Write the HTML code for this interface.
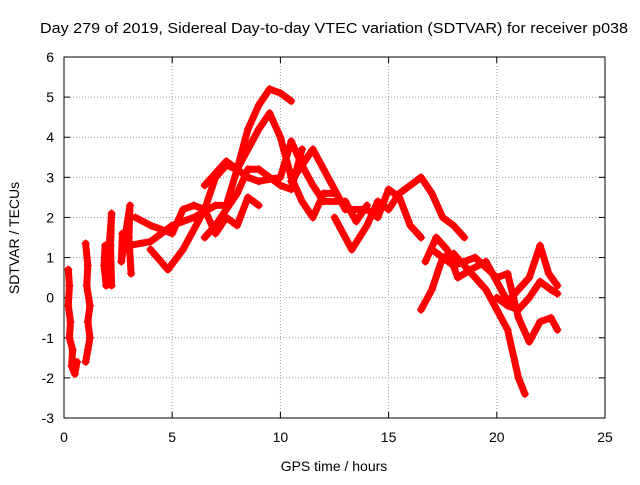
<!DOCTYPE html>
<html><head><meta charset="utf-8"><style>
body{margin:0;background:#fff}
svg text{font-family:"Liberation Sans",sans-serif;font-size:14px;fill:#000}
</style></head><body>
<svg id="chart" width="640" height="480" xmlns="http://www.w3.org/2000/svg">
<text x="40" y="33" style="font-size:15px" textLength="588" lengthAdjust="spacingAndGlyphs">Day 279 of 2019, Sidereal Day-to-day VTEC variation (SDTVAR) for receiver p038</text>
<text x="334" y="471" text-anchor="middle">GPS time / hours</text>
<text transform="translate(19,238) rotate(-90)" text-anchor="middle">SDTVAR / TECUs</text>
<g id="grid"></g><g id="axes"></g><g id="marks"></g>
</svg>
<script>
const xTicks=[0,5,10,15,20,25];
const yTicks=[-3,-2,-1,0,1,2,3,4,5,6];
const s1=[[0.2,0.7],[0.25,0.3],[0.2,-0.2],[0.3,-0.6],[0.25,-1.0],[0.4,-1.3],[0.35,-1.7],[0.5,-1.9],[0.6,-1.6]];
const s1b=[[1.0,1.35],[1.1,0.8],[1.05,0.3],[1.2,-0.2],[1.1,-0.6],[1.2,-1.0],[1.1,-1.3],[1.0,-1.6]];
const s1c=[[1.9,1.3],[1.85,0.8],[1.95,0.3],[2.2,2.1],[2.15,1.3],[2.2,0.3]];
const s1d=[[2.7,1.6],[2.65,0.9],[3.05,2.3],[3.0,1.5],[3.1,0.6]];
const s2=[[3.3,2.0],[4,1.8],[5,1.6],[5.5,2.2],[6,2.3],[6.5,2.2],[7,1.6],[7.5,2.0],[8,1.8],[8.5,2.5],[9,2.3]];
const s3=[[3,1.3],[4,1.4],[5,1.8],[6,2.0],[7,2.3],[7.5,2.3],[8,3.2],[8.5,4.2],[9,4.8],[9.5,5.2],[10,5.1],[10.5,4.9]];
const s4=[[4,1.2],[4.8,0.7],[5.5,1.2],[6.5,2.2],[7,3.0],[7.5,3.3],[8,3.2],[9,4.2],[9.5,4.6],[10,4.0],[10.5,3.0],[11,2.4],[11.5,2.0],[12,2.6],[12.5,2.6]];
const s5=[[6.5,1.5],[7,1.8],[8,2.6],[8.5,3.2],[9,3.2],[10,2.8],[10.5,2.7],[11,3.7]];
const s6=[[6.5,2.8],[7.5,3.4],[8.5,3.0],[9,2.9],[10,3.0],[10.5,3.9],[11,3.3],[11.5,2.8],[12,2.4],[13,2.4],[13.5,1.9],[14,2.3]];
const s7=[[10.5,2.9],[11.5,3.7],[12,3.2],[12.5,2.7],[13,2.2],[14,2.2],[14.5,2.0],[15,2.7],[15.5,2.5],[16,1.8],[16.5,1.5]];
const s8=[[12.5,2.0],[13.3,1.2],[14,1.8],[14.5,2.4],[15,2.2],[15.5,2.6],[16.5,3.0],[17,2.6],[17.5,2.0],[18,1.8],[18.5,1.5]];
const s9=[[16.5,-0.3],[17,0.2],[17.5,1.0],[18,1.1],[18.5,0.8],[19,0.5],[19.5,0.2],[20,-0.3],[20.5,-0.8],[21,-2.0],[21.3,-2.4]];
const s10=[[16.7,0.9],[17.2,1.5],[17.7,1.2],[18.2,0.5],[18.8,0.7],[19.5,0.9],[20,0.4],[20.5,-0.1],[21,0.2],[21.5,0.5],[22,1.3],[22.4,0.6],[22.8,0.3]];
const s11=[[17,1.2],[18,0.8],[19,1.0],[20,0.5],[20.5,0.6],[21,-0.5],[21.5,-1.1],[22,-0.6],[22.5,-0.5],[22.8,-0.8]];
const s12=[[20,0],[20.5,-0.2],[21,-0.3],[21.5,0],[22,0.4],[22.5,0.2],[22.8,0.1]];
const series=[s1,s1b,s1c,s1d,s2,s3,s4,s5,s6,s7,s8,s9,s10,s11,s12];
const L=64,R=605,T=57,B=418;
const X=v=>L+(v-0)/(25-0)*(R-L);
const Y=v=>B-(v+3)/9*(B-T);
const NS="http://www.w3.org/2000/svg";
function mk(t,a,p){const e=document.createElementNS(NS,t);for(const k in a)e.setAttribute(k,a[k]);p.appendChild(e);return e;}
const grid=document.getElementById('grid'),axes=document.getElementById('axes'),marks=document.getElementById('marks');
xTicks.forEach(v=>{
  if(v>0&&v<25){const g=mk('line',{x1:X(v),x2:X(v),y1:T,y2:B,stroke:'#a0a0a0','stroke-dasharray':'1,2'},grid);
  
  }
  mk('line',{x1:X(v),x2:X(v),y1:B,y2:B-6,stroke:'#000'},axes);
  mk('line',{x1:X(v),x2:X(v),y1:T,y2:T+6,stroke:'#000'},axes);
  const t=mk('text',{x:X(v),y:B+24,'text-anchor':'middle'},axes);t.textContent=v;
  
  
});
yTicks.forEach(v=>{
  if(v>-3&&v<6){const g=mk('line',{x1:L,x2:R,y1:Y(v),y2:Y(v),stroke:'#a0a0a0','stroke-dasharray':'1,2'},grid);
  
  }
  mk('line',{x1:L,x2:L+6,y1:Y(v),y2:Y(v),stroke:'#000'},axes);
  mk('line',{x1:R,x2:R-6,y1:Y(v),y2:Y(v),stroke:'#000'},axes);
  const t=mk('text',{x:L-10,y:Y(v)+5,'text-anchor':'end'},axes);t.textContent=v;
  
  
});
const fr=mk('rect',{x:L,y:T,width:R-L,height:B-T,fill:'none',stroke:'#000'},axes);


series.forEach((s,i)=>{
  const p=mk('polyline',{points:s.map(d=>X(d[0])+','+Y(d[1])).join(' '),fill:'none',stroke:'#f00','stroke-width':7,'stroke-linejoin':'round','stroke-linecap':'round'},marks);
  
  
  s.forEach(d=>{
    const m=mk('path',{d:`M${X(d[0])-4},${Y(d[1])}h8M${X(d[0])},${Y(d[1])-4}v8`,stroke:'#f00','stroke-width':1.2},marks);
    
    
  });
});
</script>
</body></html>
